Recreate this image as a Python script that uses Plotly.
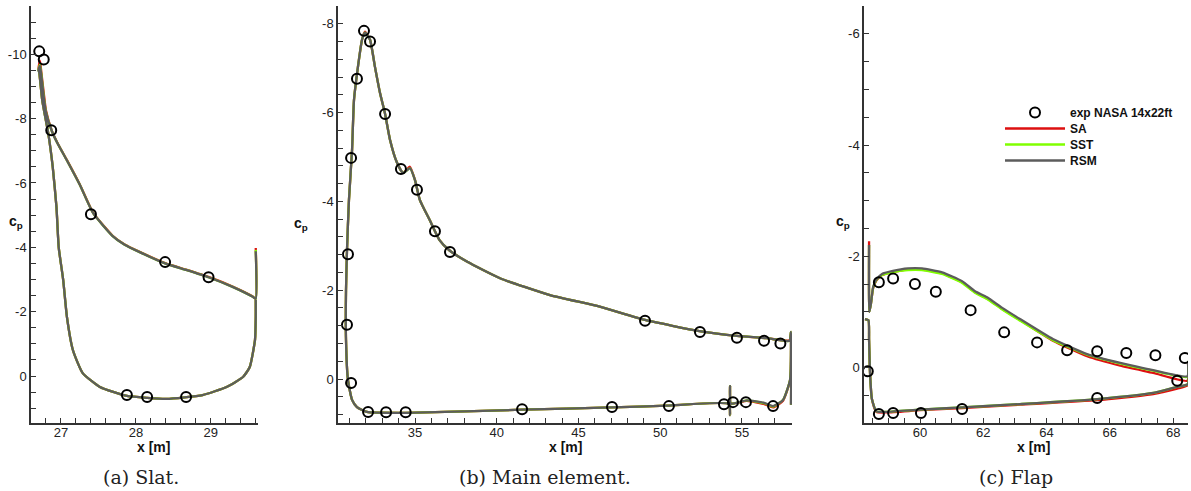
import plotly.graph_objects as go

W, H = 1191, 491

# ---------------- data ----------------
# Slat (a)
slat_x = [29.60, 29.60, 29.56, 29.29, 28.97, 28.68, 28.39, 28.05, 27.85, 27.69, 27.43, 27.25,
          27.08, 26.95, 26.88, 26.80, 26.77, 26.74, 26.72, 26.70, 26.71, 26.75, 26.83, 26.89,
          26.94, 26.97, 27.03, 27.08, 27.16, 27.29, 27.52, 27.88, 28.15, 28.41, 28.89, 29.21,
          29.43, 29.52, 29.59, 29.60, 29.60]
slat_sa = [-3.98, -2.40, -2.47, -2.78, -3.08, -3.30, -3.51, -3.86, -4.09, -4.36, -5.07, -5.96,
           -6.71, -7.26, -7.61, -8.25, -8.80, -9.40, -9.80, -9.55, -9.44, -8.57, -7.55, -6.50,
           -5.25, -4.00, -2.98, -1.83, -0.80, -0.09, 0.34, 0.62, 0.68, 0.71, 0.59, 0.34,
           0.03, -0.28, -1.12, -1.83, -2.36]
slat_sst = [-3.92, -2.40, -2.46, -2.77, -3.07, -3.29, -3.50, -3.85, -4.08, -4.35, -5.06, -5.95,
            -6.70, -7.25, -7.60, -8.20, -8.68, -9.33, -9.68, -9.52, -9.44, -8.57, -7.55, -6.50,
            -5.25, -4.00, -2.98, -1.83, -0.80, -0.09, 0.34, 0.62, 0.68, 0.71, 0.59, 0.34,
            0.03, -0.28, -1.12, -1.83, -2.36]
slat_rsm = [-3.88, -2.40, -2.46, -2.77, -3.07, -3.29, -3.50, -3.85, -4.08, -4.35, -5.06, -5.95,
            -6.70, -7.25, -7.60, -8.20, -8.66, -9.30, -9.65, -9.50, -9.44, -8.57, -7.55, -6.50,
            -5.25, -4.00, -2.98, -1.83, -0.80, -0.09, 0.34, 0.62, 0.68, 0.71, 0.59, 0.34,
            0.03, -0.28, -1.12, -1.83, -2.36]
slat_exp_x = [26.71, 26.77, 26.87, 27.40, 28.39, 28.97, 27.88, 28.15, 28.67]
slat_exp_cp = [-10.09, -9.84, -7.64, -5.03, -3.54, -3.07, 0.59, 0.65, 0.65]

# Main element (b)
main_x = [58.00, 58.00, 57.90, 56.50, 54.70, 52.40, 49.07, 46.30, 43.26, 40.20, 38.20, 37.10,
          36.50, 35.90, 35.30, 35.00, 34.69, 34.27, 33.90, 33.47, 33.17, 32.86, 32.55, 32.25,
          31.94, 31.76, 31.51, 31.27, 31.15, 30.96, 30.84, 30.78, 30.78, 30.90, 31.15, 31.45,
          32.06, 34.43, 41.55, 47.05, 50.40, 54.20, 54.27, 54.27, 54.32, 55.30, 56.40, 56.90,
          57.51, 57.94, 58.00]
main_sa = [0.58, -1.06, -0.87, -0.92, -0.97, -1.08, -1.33, -1.63, -1.89, -2.27, -2.64, -2.90,
           -3.13, -3.58, -4.03, -4.48, -4.78, -4.64, -4.87, -5.39, -5.97, -6.44, -7.03, -7.64,
           -7.82, -7.64, -7.03, -6.29, -5.16, -4.03, -2.90, -2.00, -0.88, 0.02, 0.47, 0.63,
           0.74, 0.76, 0.69, 0.64, 0.60, 0.56, 0.81, 0.16, 0.55, 0.49, 0.57, 0.64,
           0.49, 0.03, -0.86]
main_sst = [0.58, -1.06, -0.86, -0.92, -0.97, -1.08, -1.33, -1.63, -1.89, -2.27, -2.64, -2.90,
            -3.13, -3.58, -4.03, -4.48, -4.75, -4.64, -4.87, -5.39, -5.97, -6.44, -7.03, -7.64,
            -7.80, -7.64, -7.03, -6.29, -5.16, -4.03, -2.90, -2.00, -0.88, 0.02, 0.47, 0.63,
            0.74, 0.76, 0.69, 0.64, 0.60, 0.56, 0.81, 0.16, 0.55, 0.48, 0.55, 0.62,
            0.47, 0.02, -0.86]
main_rsm = [0.58, -1.06, -0.86, -0.92, -0.97, -1.08, -1.33, -1.63, -1.89, -2.27, -2.64, -2.90,
            -3.13, -3.58, -4.03, -4.48, -4.75, -4.64, -4.87, -5.39, -5.97, -6.44, -7.03, -7.64,
            -7.80, -7.64, -7.03, -6.29, -5.16, -4.03, -2.90, -2.00, -0.88, 0.02, 0.47, 0.63,
            0.74, 0.76, 0.69, 0.64, 0.60, 0.56, 0.81, 0.16, 0.55, 0.48, 0.54, 0.61,
            0.47, 0.02, -0.86]
main_exp_x = [31.88, 32.25, 31.45, 33.17, 31.09, 34.14, 35.12, 36.22, 37.14, 30.90, 30.84,
              31.09, 32.13, 33.23, 34.43, 41.55, 47.05, 50.53, 53.90, 54.45, 55.24, 56.90,
              49.07, 52.43, 54.69, 56.35, 57.35]
main_exp_cp = [-7.84, -7.60, -6.76, -5.97, -4.98, -4.73, -4.26, -3.33, -2.86, -2.81, -1.22,
               0.09, 0.74, 0.75, 0.75, 0.68, 0.63, 0.61, 0.57, 0.52, 0.52, 0.61,
               -1.31, -1.06, -0.93, -0.86, -0.80]

# Flap (c)
flap_x = [58.39, 58.40, 58.45, 58.52, 58.62, 58.80, 59.11, 59.62, 60.06, 60.70, 61.33, 61.74,
          62.12, 62.60, 63.16, 64.20, 65.28, 66.33, 67.37, 68.45, 68.47, 68.47, 68.13, 67.37,
          65.60, 63.16, 61.33, 60.00, 58.96, 58.62, 58.48, 58.42, 58.39, 58.37, 58.26]
flap_sa = [-2.27, -1.00, -1.15, -1.43, -1.56, -1.66, -1.71, -1.76, -1.76, -1.69, -1.53, -1.35,
           -1.24, -1.05, -0.85, -0.48, -0.20, -0.03, 0.10, 0.24, -0.08, 0.32, 0.38, 0.48,
           0.59, 0.67, 0.73, 0.77, 0.81, 0.80, 0.57, 0.09, -0.50, -0.85, -0.87]
flap_sst = [-2.20, -1.00, -1.15, -1.44, -1.57, -1.66, -1.71, -1.75, -1.75, -1.68, -1.52, -1.34,
            -1.23, -1.04, -0.84, -0.49, -0.23, -0.07, 0.06, 0.17, -0.10, 0.30, 0.35, 0.46,
            0.57, 0.66, 0.72, 0.76, 0.80, 0.79, 0.57, 0.09, -0.50, -0.85, -0.87]
flap_rsm = [-2.20, -1.00, -1.15, -1.45, -1.58, -1.68, -1.73, -1.78, -1.78, -1.71, -1.55, -1.37,
            -1.26, -1.07, -0.87, -0.51, -0.24, -0.08, 0.05, 0.16, -0.10, 0.30, 0.35, 0.46,
            0.57, 0.66, 0.72, 0.76, 0.80, 0.79, 0.57, 0.09, -0.50, -0.85, -0.87]
flap_exp_x = [58.35, 58.70, 59.15, 59.84, 60.50, 61.60, 62.66, 63.70, 64.65, 65.60, 66.52,
              67.44, 68.37, 68.13, 65.60, 61.33, 60.03, 59.15, 58.70]
flap_exp_cp = [0.07, -1.53, -1.60, -1.50, -1.36, -1.03, -0.63, -0.45, -0.31, -0.29, -0.26,
               -0.22, -0.17, 0.24, 0.55, 0.75, 0.82, 0.82, 0.84]

captions = ["(a) Slat.", "(b) Main element.", "(c) Flap"]
x_ticks = [[27, 28, 29], [35, 40, 45, 50, 55], [60, 62, 64, 66, 68]]
y_ticks = [[-10, -8, -6, -4, -2, 0], [-8, -6, -4, -2, 0], [-6, -4, -2, 0]]

# ---------------- style ----------------
C_SA, C_SST, C_RSM = "#dd1010", "#80ff00", "#5c5c5c"
AX = "#333333"
FONT = "Liberation Sans"

def px_x(p):
    return p / W

def px_y(p):
    return 1 - p / H

panels = [
    dict(x=slat_x, sa=slat_sa, sst=slat_sst, rsm=slat_rsm, ex=slat_exp_x, ecp=slat_exp_cp,
         xd=(31, 258), xr=[26.6, 29.63], yr=[1.46, -11.5], xminor=0.2, yminor=0.5),
    dict(x=main_x, sa=main_sa, sst=main_sst, rsm=main_rsm, ex=main_exp_x, ecp=main_exp_cp,
         xd=(338, 792), xr=[30.29, 58.06], yr=[0.99, -8.4], xminor=1.0, yminor=0.4),
    dict(x=flap_x, sa=flap_sa, sst=flap_sst, rsm=flap_rsm, ex=flap_exp_x, ecp=flap_exp_cp,
         xd=(864, 1188), xr=[58.23, 68.47], yr=[1.0, -6.5], xminor=0.5, yminor=0.5),
]

legend_of = {"exp NASA 14x22ft": "legend", "SA": "legend2", "SST": "legend3", "RSM": "legend4"}
legend_row_y = {"legend": 112, "legend2": 128, "legend3": 144, "legend4": 160}

fig = go.Figure()
layout = dict(width=W, height=H, margin=dict(l=0, r=0, t=0, b=0, autoexpand=False),
              paper_bgcolor="white", plot_bgcolor="white",
              font=dict(family=FONT, size=13, color="#222222"))
annotations = []

for i, p in enumerate(panels):
    n = "" if i == 0 else str(i + 1)
    xa, ya = "x" + n, "y" + n
    last = (i == 2)
    for name, key, col in [("SA", "sa", C_SA), ("SST", "sst", C_SST), ("RSM", "rsm", C_RSM)]:
        fig.add_trace(go.Scatter(x=p["x"], y=p[key], mode="lines", name=name,
                                 line=dict(color=col, width=2.3, shape="spline", smoothing=0.5),
                                 xaxis=xa, yaxis=ya, showlegend=last, legend=legend_of[name]))
    fig.add_trace(go.Scatter(x=p["ex"], y=p["ecp"], mode="markers", name="exp NASA 14x22ft",
                             marker=dict(symbol="circle-open", size=10, color="black",
                                         line=dict(width=2, color="black")),
                             xaxis=xa, yaxis=ya, showlegend=last,
                             legend=legend_of["exp NASA 14x22ft"]))
    common = dict(showline=True, linecolor=AX, linewidth=1.5, ticks="inside", ticklen=5,
                  tickwidth=1.2, tickcolor=AX, showgrid=False, zeroline=False,
                  automargin=False,
                  tickfont=dict(family=FONT, size=13, color="#222222"))
    layout["xaxis" + n] = dict(common, domain=[px_x(p["xd"][0]), px_x(p["xd"][1])],
                               range=p["xr"], anchor=ya, tickmode="array",
                               tickvals=x_ticks[i], ticktext=[str(v) for v in x_ticks[i]],
                               ticklabelstandoff=-3,
                               minor=dict(ticks="inside", ticklen=5, tickwidth=1.2,
                                          tickcolor=AX, tickmode="linear", tick0=0,
                                          dtick=p["xminor"]))
    layout["yaxis" + n] = dict(common, domain=[px_y(423), px_y(6)], range=p["yr"],
                               anchor=xa, tickmode="array", tickvals=y_ticks[i],
                               ticktext=[str(v) for v in y_ticks[i]],
                               minor=dict(ticks="inside", ticklen=5, tickwidth=1.2,
                                          tickcolor=AX, tickmode="linear", tick0=0,
                                          dtick=p["yminor"]))

# axis titles and captions
xt_centers = [153, 565, 1033]
cp_pos = [(16, 222), (301, 224), (843, 222)]
cap_centers = [141, 545, 1016]
for i in range(3):
    annotations.append(dict(text="<b>x [m]</b>", x=px_x(xt_centers[i]), y=px_y(447),
                            xref="paper", yref="paper", showarrow=False,
                            xanchor="center", yanchor="middle",
                            font=dict(family=FONT, size=14, color="#111111")))
    annotations.append(dict(text="<b>c<sub>p</sub></b>", x=px_x(cp_pos[i][0]),
                            y=px_y(cp_pos[i][1]), xref="paper", yref="paper",
                            showarrow=False, xanchor="center", yanchor="middle",
                            font=dict(family=FONT, size=14, color="#111111")))
    annotations.append(dict(text=captions[i], x=px_x(cap_centers[i]), y=px_y(477),
                            xref="paper", yref="paper", showarrow=False,
                            xanchor="center", yanchor="middle",
                            font=dict(family="DejaVu Serif", size=19, color="#222222")))
layout["annotations"] = annotations
for lg, row in legend_row_y.items():
    layout[lg] = dict(x=px_x(1000), y=px_y(row - 14), xanchor="left", yanchor="top",
                      bgcolor="rgba(0,0,0,0)", borderwidth=0, itemwidth=60,
                      font=dict(family=FONT, size=12, color="#111111", weight="bold"))
fig.update_layout(**layout)
fig.write_html("out.html", config={"displayModeBar": False},
               post_script="document.body.style.margin='0';")
